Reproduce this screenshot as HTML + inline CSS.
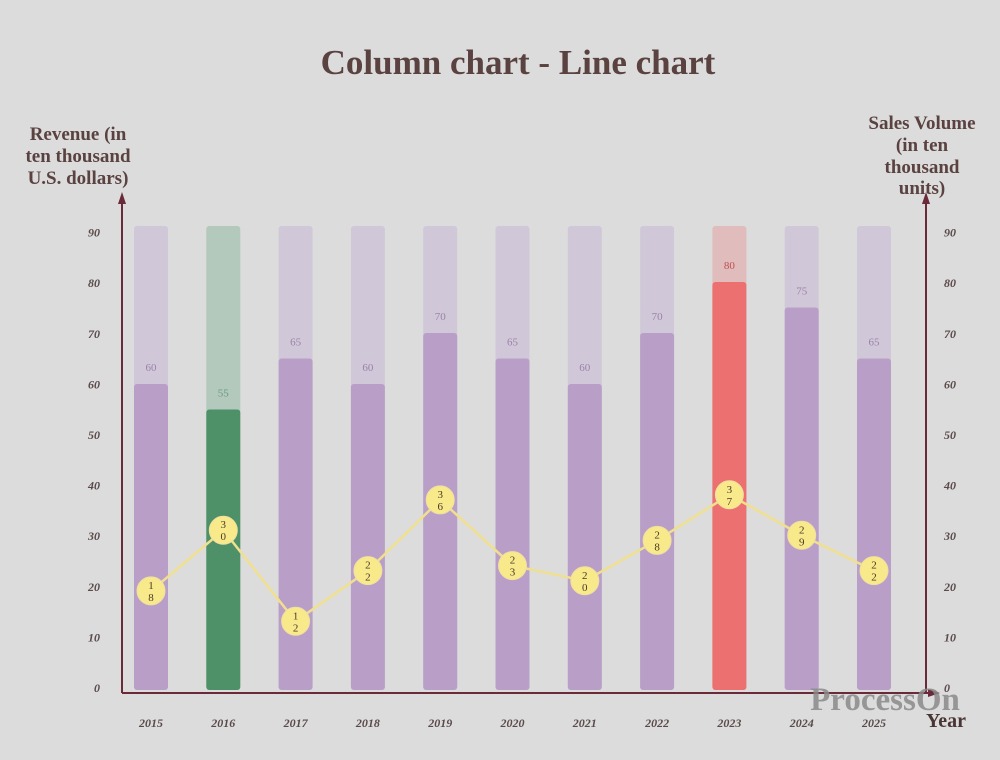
<!DOCTYPE html>
<html><head><meta charset="utf-8"><style>
html,body{margin:0;padding:0;background:#dcdcdc;}
svg{display:block;font-family:"Liberation Serif",serif;}
</style></head><body>
<svg id="chart" width="1000" height="760" viewBox="0 0 1000 760">
<rect width="1000" height="760" fill="#dcdcdc"/>
<text x="518" y="74" text-anchor="middle" font-size="35" font-weight="bold" fill="#5a4240">Column chart - Line chart</text>
<g fill="#5a4240" font-size="19" font-weight="bold" text-anchor="middle">
<text x="78" y="140">Revenue (in</text><text x="78" y="162">ten thousand</text><text x="78" y="184">U.S. dollars)</text></g>
<g fill="#5a4240" font-size="19" font-weight="bold" text-anchor="middle">
<text x="922" y="129">Sales Volume</text><text x="922" y="151">(in ten</text><text x="922" y="173">thousand</text><text x="922" y="194">units)</text></g>
<g id="bars"></g><g id="line"></g><g id="axes"></g>
<text x="885" y="710" text-anchor="middle" font-size="33" font-weight="bold" fill="#8a8a8a" opacity="0.85">ProcessOn</text>
<text x="946" y="727" text-anchor="middle" font-size="20" font-weight="bold" fill="#4a3535">Year</text>
</svg>
<script>
const categories=["2015","2016","2017","2018","2019","2020","2021","2022","2023","2024","2025"];
const revenue=[60,55,65,60,70,65,60,70,80,75,65];
const sales=[18,30,12,22,36,23,20,28,37,29,22];
const ticks=[0,10,20,30,40,50,60,70,80,90];
const NS="http://www.w3.org/2000/svg";
function mk(tag,attrs,parent,text){const e=document.createElementNS(NS,tag);for(const k in attrs)e.setAttribute(k,attrs[k]);if(text!==undefined)e.textContent=text;parent.appendChild(e);return e;}
const x0=151,dx=72.3;
function xs(i){return x0+i*dx;}
function yL(v){return 690-v*5.1;}
function yR(v){return 682-v*5.06;}
const bars=document.getElementById('bars'),line=document.getElementById('line'),axes=document.getElementById('axes');
categories.forEach((c,i)=>{
  const cx=xs(i);
  let fg="#b99fc8",bg="#d0c8d8",lab="#9a82a8";
  if(c==="2016"){fg="#4e9068";bg="#b2c9bb";lab="#6a9a80";}
  if(c==="2023"){fg="#ec7070";bg="#e0bcbc";lab="#c05050";}
  const b=mk('rect',{x:cx-17,y:226,width:34,height:464,rx:3,fill:bg},bars);
  
  
  const f=mk('rect',{x:cx-17,y:yL(revenue[i]),width:34,height:690-yL(revenue[i]),rx:3,fill:fg},bars);
  
  
  const t=mk('text',{x:cx,y:yL(revenue[i])-13,'text-anchor':'middle','font-size':11,fill:lab},bars,String(revenue[i]));
  
  
  const xl=mk('text',{x:cx,y:727,'text-anchor':'middle','font-size':12,'font-style':'italic','font-weight':'bold',fill:'#5a4a4a'},axes,c);
  
  
});
const pts=sales.map((v,i)=>xs(i)+','+yR(v)).join(' ');
const pl=mk('polyline',{points:pts,fill:'none',stroke:'#f0e08e','stroke-width':2.5},line);


sales.forEach((v,i)=>{
  const cx=xs(i),cy=yR(v);
  const c=mk('circle',{cx:cx,cy:cy,r:14,fill:'#f8e98a',stroke:'#efe0a0','stroke-width':1},line);
  
  
  const s=String(v);
  const t1=mk('text',{x:cx,y:cy-2,'text-anchor':'middle','font-size':11,fill:'#4a3a2a'},line,s[0]);
  
  
  const t2=mk('text',{x:cx,y:cy+10,'text-anchor':'middle','font-size':11,fill:'#4a3a2a'},line,s[1]||'');
  
  
});
ticks.forEach(v=>{
  const a=mk('text',{x:100,y:yL(v)*0.985+v*0.0+6,'text-anchor':'end','font-size':12,'font-style':'italic','font-weight':'bold',fill:'#5a4a4a'},axes,String(v));
  a.setAttribute('y',(688-v*5.06)+4);
  
  
  const b=mk('text',{x:944,y:(688-v*5.06)+4,'font-size':12,'font-style':'italic','font-weight':'bold',fill:'#5a4a4a'},axes,String(v));
  
  
});
const ax=[['y-axis-left',122,693,122,198],['y-axis-right',926,693,926,198],['x-axis',122,693,930,693]];
ax.forEach(a=>{
  const l=mk('line',{x1:a[1],y1:a[2],x2:a[3],y2:a[4],stroke:'#6a2a3a','stroke-width':2},axes);
  
  
});
const arrows=[['y-arrow-left','122,192 118,204 126,204'],['y-arrow-right','926,192 922,204 930,204'],['x-arrow','940,693 928,689 928,697']];
arrows.forEach(a=>{
  const p=mk('polygon',{points:a[1],fill:'#6a2a3a'},axes);
  
  
});
</script>
</body></html>
